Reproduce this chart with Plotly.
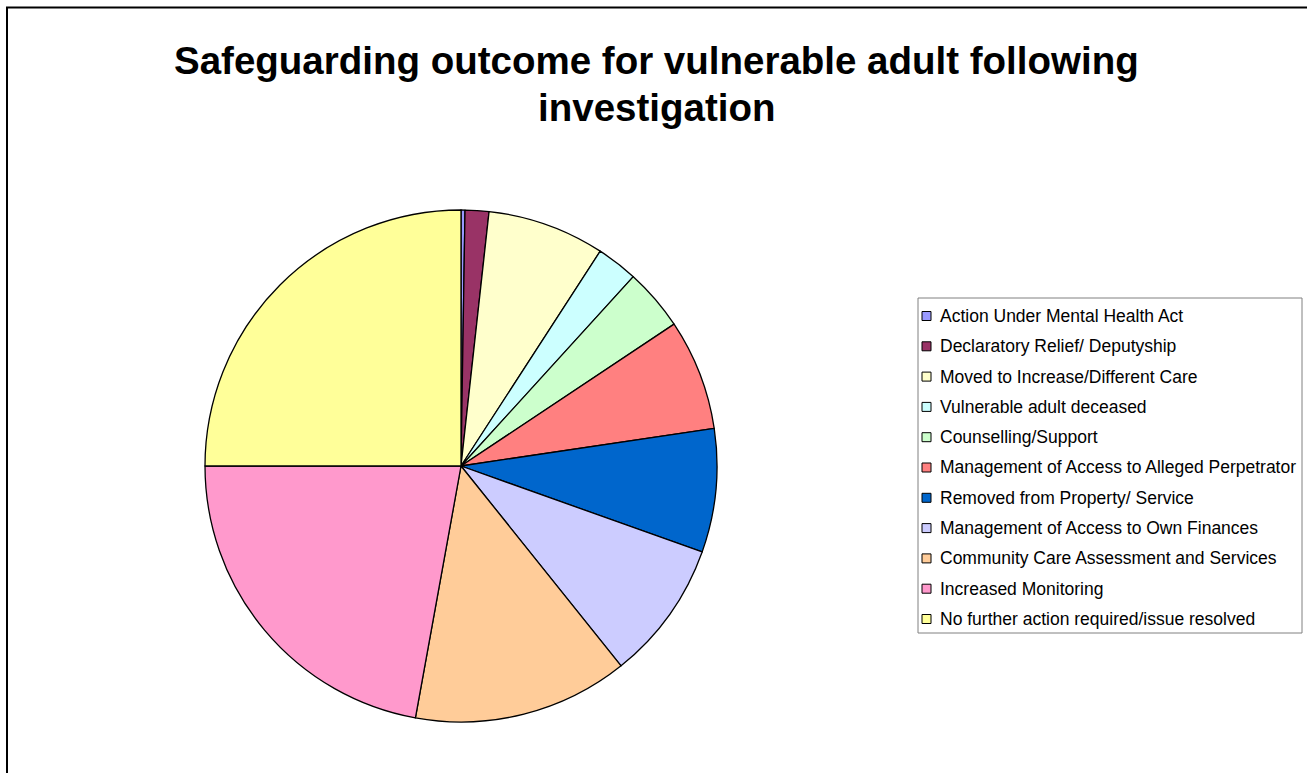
import plotly.graph_objects as go

W, H = 1307, 773

labels = [
    "Action Under Mental Health Act",
    "Declaratory Relief/ Deputyship",
    "Moved to Increase/Different Care",
    "Vulnerable adult deceased",
    "Counselling/Support",
    "Management of Access to Alleged Perpetrator",
    "Removed from Property/ Service",
    "Management of Access to Own Finances",
    "Community Care Assessment and Services",
    "Increased Monitoring",
    "No further action required/issue resolved",
]
values = [0.25, 1.5, 7.4, 2.6, 3.9, 7.0, 7.8, 8.8, 13.6, 22.15, 25.0]
colors = ["#9999FF", "#993366", "#FFFFCC", "#CCFFFF", "#CCFFCC", "#FF8080",
          "#0066CC", "#CCCCFF", "#FFCC99", "#FF99CC", "#FFFF99"]

cx, cy, r = 461, 466, 256

fig = go.Figure(go.Pie(
    labels=labels, values=values, sort=False, direction="clockwise", rotation=0,
    marker=dict(colors=colors, line=dict(color="black", width=1.3)),
    textinfo="none", hoverinfo="label+percent", showlegend=False,
    domain=dict(x=[(cx - r) / W, (cx + r) / W], y=[1 - (cy + r) / H, 1 - (cy - r) / H]),
))

shapes = []
annotations = []
# outer chart border
shapes.append(dict(type="rect", xref="paper", yref="paper",
                   x0=7 / W, x1=1.02, y0=-0.02, y1=1 - 7.5 / H,
                   line=dict(color="black", width=2), fillcolor="rgba(0,0,0,0)"))
# legend box
lx0, lx1, ly0, ly1 = 918, 1302, 298, 633
shapes.append(dict(type="rect", xref="paper", yref="paper",
                   x0=lx0 / W, x1=lx1 / W, y0=1 - ly1 / H, y1=1 - ly0 / H,
                   line=dict(color="#808080", width=1), fillcolor="white"))
first_y, step = 316, 30.3
for i, (lab, col) in enumerate(zip(labels, colors)):
    yc = first_y + i * step
    shapes.append(dict(type="rect", xref="paper", yref="paper",
                       x0=922 / W, x1=931 / W, y0=1 - (yc + 4.5) / H, y1=1 - (yc - 4.5) / H,
                       line=dict(color="black", width=1), fillcolor=col))
    annotations.append(dict(text=lab, xref="paper", yref="paper", x=938 / W, y=1 - yc / H,
                            xanchor="left", yanchor="middle", showarrow=False,
                            font=dict(family="Liberation Sans, Arial", size=17.5, color="black")))

annotations.append(dict(text="<b>Safeguarding outcome for vulnerable adult following</b>",
                        xref="paper", yref="paper", x=657 / W, y=1 - 60 / H,
                        xanchor="center", yanchor="middle", showarrow=False,
                        font=dict(family="Liberation Sans, Arial", size=38.5, color="black")))
annotations.append(dict(text="<b>investigation</b>",
                        xref="paper", yref="paper", x=657 / W, y=1 - 108 / H,
                        xanchor="center", yanchor="middle", showarrow=False,
                        font=dict(family="Liberation Sans, Arial", size=38.5, color="black")))

fig.update_layout(
    width=W, height=H, margin=dict(l=0, r=0, t=0, b=0),
    paper_bgcolor="white", plot_bgcolor="white",
    shapes=shapes, annotations=annotations,
)
fig.write_html("out.html", config={"displayModeBar": False},
               post_script="document.body.style.margin='0';document.body.style.overflow='hidden';")
